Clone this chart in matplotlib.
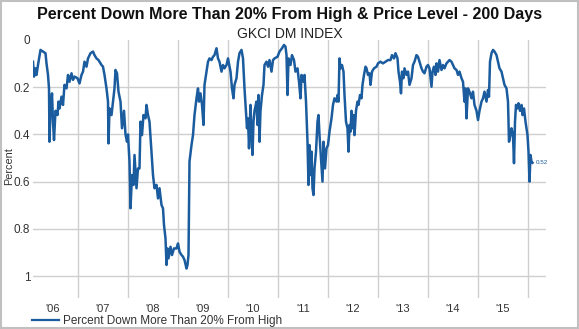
import matplotlib
matplotlib.use("Agg")
import matplotlib.pyplot as plt
from matplotlib.lines import Line2D
from matplotlib.patches import Rectangle
import numpy as np

plt.rcParams['font.family'] = ['Liberation Sans', 'DejaVu Sans']

title = "Percent Down More Than 20% From High & Price Level - 200 Days"
subtitle = "GKCI DM INDEX"
series_name = "Percent Down More Than 20% From High"
y_label = "Percent"
end_label = "0.52"

year_labels = ["'06", "'07", "'08", "'09", "'10", "'11", "'12", "'13", "'14", "'15"]
label_years = [2006, 2007, 2008, 2009, 2010, 2011, 2012, 2013, 2014, 2015]
y_ticks = [0, 0.2, 0.4, 0.6, 0.8, 1.0]
y_tick_labels = ["0", "0.2", "0.4", "0.6", "0.8", "1"]

dates_0607 = [2006.10, 2006.12, 2006.15, 2006.17, 2006.20, 2006.25, 2006.30, 2006.35, 2006.37, 2006.40,
              2006.42, 2006.43, 2006.45, 2006.48, 2006.50, 2006.52, 2006.55, 2006.59, 2006.61, 2006.63,
              2006.67, 2006.70, 2006.73, 2006.77, 2006.80, 2006.83, 2006.87, 2006.90, 2006.93, 2006.99,
              2007.03, 2007.07, 2007.10, 2007.13, 2007.17, 2007.20, 2007.25, 2007.30, 2007.33, 2007.37,
              2007.41, 2007.47, 2007.50, 2007.53, 2007.57, 2007.60, 2007.61, 2007.63, 2007.67, 2007.70,
              2007.73, 2007.75, 2007.78, 2007.81, 2007.85, 2007.88, 2007.92, 2007.95, 2007.98]
values_0607 = [0.092, 0.155, 0.120, 0.148, 0.106, 0.042, 0.049, 0.056, 0.099, 0.148,
               0.205, 0.431, 0.300, 0.226, 0.346, 0.424, 0.300, 0.318, 0.261, 0.290,
               0.240, 0.275, 0.190, 0.205, 0.148, 0.177, 0.141, 0.169, 0.155, 0.162,
               0.184, 0.148, 0.134, 0.092, 0.113, 0.078, 0.056, 0.049, 0.064, 0.078,
               0.085, 0.106, 0.113, 0.148, 0.205, 0.261, 0.438, 0.290, 0.318, 0.261,
               0.205, 0.127, 0.141, 0.219, 0.261, 0.374, 0.300, 0.400, 0.431]

dates_0809 = [2008.00, 2008.03, 2008.05, 2008.08, 2008.11, 2008.13, 2008.17, 2008.20, 2008.23, 2008.25,
              2008.28, 2008.31, 2008.35, 2008.37, 2008.40, 2008.43, 2008.47, 2008.50, 2008.53, 2008.57,
              2008.60, 2008.63, 2008.67, 2008.70, 2008.72, 2008.75, 2008.77, 2008.79, 2008.81, 2008.85,
              2008.88, 2008.92, 2008.97, 2009.00, 2009.03, 2009.07, 2009.10, 2009.13, 2009.17, 2009.19,
              2009.21, 2009.23, 2009.27, 2009.30, 2009.33, 2009.37, 2009.40, 2009.42, 2009.45, 2009.48,
              2009.51, 2009.53, 2009.57, 2009.60, 2009.63, 2009.67, 2009.70, 2009.73, 2009.77, 2009.80,
              2009.83, 2009.87, 2009.90, 2009.93, 2009.97]
values_0809 = [0.400, 0.515, 0.713, 0.572, 0.614, 0.487, 0.628, 0.544, 0.544, 0.346,
               0.403, 0.318, 0.332, 0.275, 0.318, 0.346, 0.473, 0.572, 0.628, 0.614,
               0.671, 0.628, 0.699, 0.713, 0.784, 0.840, 0.953, 0.883, 0.925, 0.876,
               0.911, 0.883, 0.883, 0.862, 0.897, 0.911, 0.918, 0.932, 0.968, 0.953,
               0.911, 0.515, 0.445, 0.403, 0.318, 0.247, 0.205, 0.261, 0.226, 0.275,
               0.360, 0.190, 0.134, 0.092, 0.078, 0.085, 0.071, 0.064, 0.035, 0.078,
               0.092, 0.134, 0.106, 0.120, 0.106]

dates_1011 = [2010.00, 2010.05, 2010.08, 2010.11, 2010.13, 2010.17, 2010.20, 2010.23, 2010.27, 2010.30,
              2010.33, 2010.35, 2010.38, 2010.40, 2010.42, 2010.45, 2010.47, 2010.49, 2010.51, 2010.53,
              2010.57, 2010.59, 2010.61, 2010.63, 2010.65, 2010.68, 2010.71, 2010.73, 2010.77, 2010.80,
              2010.83, 2010.87, 2010.90, 2010.93, 2010.99, 2011.03, 2011.08, 2011.12, 2011.15, 2011.17,
              2011.19, 2011.21, 2011.25, 2011.28, 2011.32, 2011.35, 2011.39, 2011.42, 2011.45, 2011.47,
              2011.51, 2011.53, 2011.56, 2011.59, 2011.61, 2011.63, 2011.65, 2011.67, 2011.69, 2011.71,
              2011.73, 2011.76, 2011.79, 2011.81, 2011.83, 2011.86, 2011.89, 2011.91, 2011.94, 2011.97]
values_1011 = [0.078, 0.134, 0.205, 0.247, 0.190, 0.162, 0.092, 0.056, 0.042, 0.078,
               0.205, 0.275, 0.374, 0.332, 0.459, 0.275, 0.403, 0.487, 0.346, 0.300,
               0.261, 0.360, 0.233, 0.431, 0.300, 0.233, 0.190, 0.106, 0.092, 0.113,
               0.085, 0.134, 0.085, 0.078, 0.071, 0.049, 0.035, 0.021, 0.028, 0.064,
               0.233, 0.078, 0.106, 0.064, 0.085, 0.134, 0.120, 0.177, 0.247, 0.148,
               0.177, 0.148, 0.261, 0.431, 0.614, 0.445, 0.572, 0.473, 0.628, 0.657,
               0.544, 0.473, 0.346, 0.318, 0.403, 0.501, 0.600, 0.431, 0.544, 0.459]

dates_1213 = [2012.00, 2012.03, 2012.07, 2012.10, 2012.13, 2012.17, 2012.19, 2012.21, 2012.23, 2012.25,
              2012.28, 2012.31, 2012.33, 2012.36, 2012.39, 2012.41, 2012.43, 2012.45, 2012.47, 2012.49,
              2012.51, 2012.53, 2012.56, 2012.59, 2012.61, 2012.64, 2012.67, 2012.69, 2012.72, 2012.75,
              2012.77, 2012.80, 2012.83, 2012.85, 2012.88, 2012.92, 2012.97, 2013.00, 2013.05, 2013.10,
              2013.15, 2013.20, 2013.25, 2013.28, 2013.32, 2013.35, 2013.39, 2013.41, 2013.44, 2013.46,
              2013.48, 2013.51, 2013.53, 2013.57, 2013.60, 2013.63, 2013.67, 2013.70, 2013.73, 2013.77,
              2013.80, 2013.83, 2013.87, 2013.90, 2013.93, 2013.97]
values_1213 = [0.445, 0.388, 0.332, 0.275, 0.247, 0.261, 0.233, 0.261, 0.078, 0.120,
               0.106, 0.134, 0.233, 0.346, 0.374, 0.473, 0.360, 0.388, 0.300, 0.374,
               0.318, 0.403, 0.300, 0.261, 0.275, 0.233, 0.247, 0.190, 0.148, 0.113,
               0.120, 0.148, 0.141, 0.190, 0.134, 0.120, 0.113, 0.099, 0.092, 0.099,
               0.092, 0.085, 0.085, 0.064, 0.078, 0.056, 0.078, 0.134, 0.177, 0.226,
               0.134, 0.162, 0.120, 0.148, 0.134, 0.190, 0.162, 0.106, 0.092, 0.064,
               0.071, 0.092, 0.120, 0.134, 0.141, 0.113]

dates_1415 = [2014.00, 2014.03, 2014.07, 2014.09, 2014.12, 2014.15, 2014.17, 2014.20, 2014.23, 2014.27,
              2014.30, 2014.33, 2014.37, 2014.40, 2014.43, 2014.47, 2014.50, 2014.53, 2014.57, 2014.60,
              2014.63, 2014.67, 2014.70, 2014.73, 2014.75, 2014.77, 2014.80, 2014.83, 2014.87, 2014.90,
              2014.93, 2014.97, 2015.00, 2015.03, 2015.07, 2015.10, 2015.13, 2015.17, 2015.20, 2015.22,
              2015.24, 2015.27, 2015.30, 2015.33, 2015.37, 2015.40, 2015.43, 2015.47, 2015.50, 2015.53,
              2015.57, 2015.60, 2015.62, 2015.65, 2015.67, 2015.70, 2015.72, 2015.74, 2015.76, 2015.79,
              2015.81, 2015.84, 2015.87, 2015.89, 2015.92, 2015.95, 2015.97, 2015.99, 2016.01, 2016.03,
              2016.05, 2016.07, 2016.09]
values_1415 = [0.106, 0.120, 0.198, 0.134, 0.113, 0.148, 0.099, 0.134, 0.085, 0.127,
               0.106, 0.120, 0.099, 0.092, 0.085, 0.092, 0.106, 0.120, 0.127, 0.148,
               0.134, 0.162, 0.177, 0.261, 0.205, 0.332, 0.205, 0.219, 0.247, 0.219,
               0.275, 0.300, 0.339, 0.300, 0.261, 0.247, 0.219, 0.261, 0.212, 0.240,
               0.092, 0.056, 0.042, 0.049, 0.064, 0.092, 0.120, 0.134, 0.162, 0.190,
               0.205, 0.261, 0.431, 0.403, 0.374, 0.403, 0.522, 0.346, 0.275, 0.290,
               0.268, 0.300, 0.275, 0.318, 0.290, 0.346, 0.374, 0.403, 0.473, 0.600,
               0.487, 0.515, 0.520]

dates = np.array(dates_0607 + dates_0809 + dates_1011 + dates_1213 + dates_1415)
values = np.array(values_0607 + values_0809 + values_1011 + values_1213 + values_1415)

line_color = '#1b5c9e'
grid_color = '#cfcfcf'
text_color = '#333333'

fig = plt.figure(figsize=(5.79, 3.29), dpi=100)
ax = fig.add_axes([33/579, 1 - 298/329, (546 - 33)/579, (298 - 40)/329])

ax.plot(dates, values, color=line_color, lw=1.8, solid_joinstyle='round', zorder=3)

ax.set_xlim(2006.1, 2016.36)
ax.set_ylim(1.093, 0)

# Year labels at mid-year, gridlines at year boundaries
ax.set_xticks([y + 0.5 for y in label_years])
ax.set_xticklabels(year_labels, fontsize=8, color=text_color)
ax.set_xticks([y + 1 for y in label_years], minor=True)
ax.tick_params(axis='x', which='both', length=0, pad=4)
ax.grid(True, which='minor', axis='x', color=grid_color, lw=1)

ax.set_yticks(y_ticks)
ax.set_yticklabels(y_tick_labels, fontsize=8.5, color=text_color)
ax.tick_params(axis='y', length=0, pad=2)
for yv in y_ticks[1:]:
    ax.axhline(yv, color=grid_color, lw=1, zorder=1)

for s in ax.spines.values():
    s.set_visible(False)

fig.text(9.5/579, 1 - 166/329, y_label, rotation=90, ha='center', va='center',
         fontsize=7.8, color=text_color)

ax.annotate(end_label, xy=(dates[-1], values[-1]), xytext=(2, 0), textcoords='offset points',
            fontsize=4.5, color=line_color, va='center', ha='left')

fig.text(0.5, 1 - 15/329, title, ha='center', va='center', fontsize=11.6, fontweight='bold', color='#111111')
fig.text(0.5, 1 - 34/329, subtitle, ha='center', va='center', fontsize=10, color='#222222')

handle = Line2D([], [], color=line_color, lw=1.6)
fig.legend([handle], [series_name], loc='center left', bbox_to_anchor=(32/579, 1 - 321/329),
           frameon=False, fontsize=8.5, handlelength=2.3, handletextpad=0.3, borderaxespad=0,
           borderpad=0, labelcolor=text_color)

fig.patches.append(Rectangle((0.002, 0.003), 0.996, 0.994, transform=fig.transFigure,
                             fill=False, edgecolor='#c0c0c0', lw=1.5))

fig.savefig('out.png', dpi=100)
